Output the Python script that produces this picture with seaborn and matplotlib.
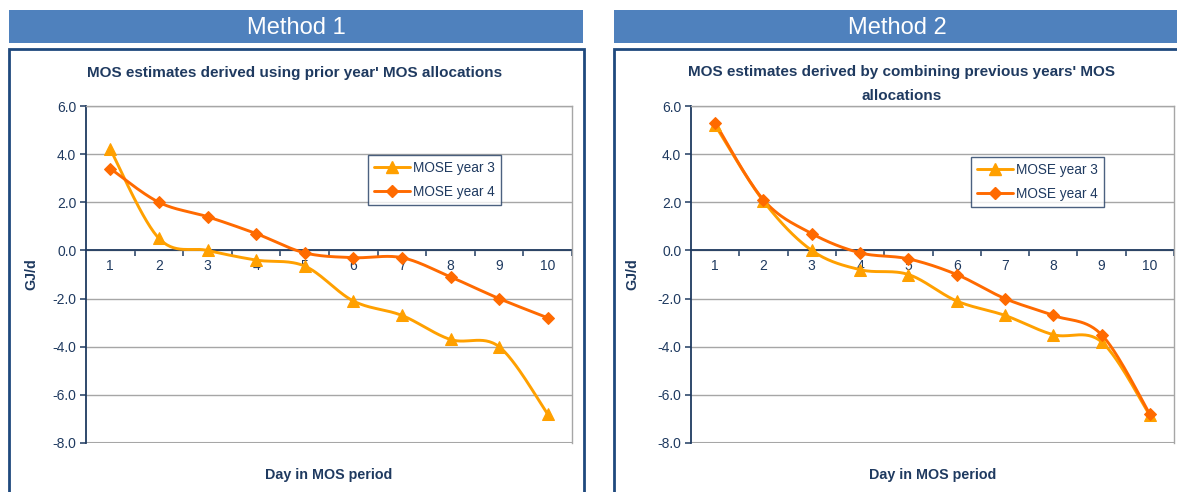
import numpy as np
import pandas as pd
import matplotlib
matplotlib.use("Agg")
import matplotlib.pyplot as plt
from matplotlib.patches import Rectangle
from matplotlib.lines import Line2D
from matplotlib.ticker import FixedLocator, FixedFormatter, NullFormatter
import seaborn as sns

# ---- data ----
days = [1, 2, 3, 4, 5, 6, 7, 8, 9, 10]
day_labels = ["1", "2", "3", "4", "5", "6", "7", "8", "9", "10"]

m1_year3 = [4.2, 0.5, 0.0, -0.4, -0.65, -2.1, -2.7, -3.7, -4.0, -6.8]
m1_year4 = [3.4, 2.0, 1.4, 0.7, -0.1, -0.3, -0.3, -1.1, -2.0, -2.8]

m2_year3 = [5.2, 2.05, 0.0, -0.8, -1.0, -2.1, -2.7, -3.5, -3.8, -6.85]
m2_year4 = [5.3, 2.1, 0.7, -0.1, -0.35, -1.0, -2.0, -2.7, -3.5, -6.8]

series_names = ["MOSE year 3", "MOSE year 4"]
panel_headers = ["Method 1", "Method 2"]
panel_titles = ["MOS estimates derived using prior year' MOS allocations",
                "MOS estimates derived by combining previous years' MOS\nallocations"]
x_title = "Day in MOS period"
y_title = "GJ/d"
y_ticks = [-8, -6, -4, -2, 0, 2, 4, 6]

# ---- style ----
W, H = 1177, 492
NAVY = "#1F3A60"
HEADER = "#4F81BD"
BOXEDGE = "#1F497D"
GRID = "#A6A6A6"
C3 = "#FFA000"
C4 = "#FF6A00"

sns.set_theme(style="white")
plt.rcParams["font.family"] = ["Liberation Sans", "DejaVu Sans"]


def smooth(x, y, n=30):
    """Bezier smoothing through every point (Catmull-Rom style control points)."""
    x = np.asarray(x, float)
    y = np.asarray(y, float)
    pts = np.column_stack([x, y])
    out = []
    m = len(pts)
    for i in range(m - 1):
        p0 = pts[i]
        p3 = pts[i + 1]
        prev = pts[i - 1] if i > 0 else pts[i]
        nxt = pts[i + 2] if i + 2 < m else pts[i + 1]
        p1 = p0 + (p3 - prev) / 6.0
        p2 = p3 - (nxt - p0) / 6.0
        t = np.linspace(0, 1, n, endpoint=(i == m - 2))[:, None]
        seg = ((1 - t) ** 3) * p0 + 3 * ((1 - t) ** 2) * t * p1 + 3 * (1 - t) * t ** 2 * p2 + t ** 3 * p3
        out.append(seg)
    out = np.vstack(out)
    return out[:, 0], out[:, 1]


fig = plt.figure(figsize=(W / 100, H / 100), dpi=100)


def fx(px):
    return px / W


def fy(py):
    return 1 - py / H


def add_rect(x0, y0, x1, y1, **kw):
    fig.patches.append(Rectangle((fx(x0), fy(y1)), fx(x1) - fx(x0), fy(y0) - fy(y1),
                                 transform=fig.transFigure, figure=fig, **kw))


panels = [
    dict(hdr=(9, 10, 583, 43), box=(9, 49, 584, 520), ax=(86, 106, 572, 443),
         head_x=296, title_xy=(295, 73), legend_anchor=(0.58, 0.855), ylab_x=-0.099,
         data=(m1_year3, m1_year4)),
    dict(hdr=(614, 10, 1180, 43), box=(614, 49, 1190, 520), ax=(691, 106, 1174, 443),
         head_x=897, title_xy=(902, 84), legend_anchor=(0.58, 0.85), ylab_x=-0.106,
         data=(m2_year3, m2_year4)),
]

for k, p in enumerate(panels):
    # header bar
    hx0, hy0, hx1, hy1 = p["hdr"]
    add_rect(hx0, hy0, hx1, hy1, facecolor=HEADER, edgecolor="none", zorder=0)
    fig.text(fx(p["head_x"]), fy((hy0 + hy1) / 2 + 1),
             panel_headers[k], color="white", fontsize=17, ha="center", va="center")
    # chart frame
    bx0, by0, bx1, by1 = p["box"]
    add_rect(bx0, by0, bx1, by1, facecolor="none", edgecolor=BOXEDGE, linewidth=2, zorder=0)
    # chart title
    tx, ty = p["title_xy"]
    fig.text(fx(tx), fy(ty), panel_titles[k], color=NAVY, fontsize=11, fontweight="bold",
             ha="center", va="center", linespacing=1.85)

    ax0, ay0, ax1, ay1 = p["ax"]
    ax = fig.add_axes([fx(ax0), fy(ay1), fx(ax1) - fx(ax0), fy(ay0) - fy(ay1)])
    ax.set_facecolor("white")

    y3, y4 = p["data"]
    for vals, col, mk, ms, name in [(y3, C3, "^", 8, series_names[0]),
                                    (y4, C4, "D", 6, series_names[1])]:
        sx, sy = smooth(days, vals)
        curve = pd.DataFrame({"day": sx, "value": sy})
        sns.lineplot(data=curve, x="day", y="value", ax=ax, color=col, linewidth=2.1,
                     sort=False, estimator=None, zorder=3)
        pts = pd.DataFrame({"day": days, "value": vals})
        sns.lineplot(data=pts, x="day", y="value", ax=ax, color=col, linestyle="",
                     marker=mk, markersize=ms, markeredgecolor=col, estimator=None, zorder=4)

    ax.set_xlim(0.5, 10.5)
    ax.set_ylim(-8, 6)

    # horizontal gridlines
    ax.set_yticks(y_ticks)
    ax.set_yticklabels([f"{v:.1f}" for v in y_ticks])
    ax.yaxis.grid(True, color=GRID, linewidth=1.0)
    ax.xaxis.grid(False)
    ax.set_axisbelow(True)

    # category axis crossing at zero
    ax.spines["bottom"].set_position(("data", 0))
    ax.spines["bottom"].set_color(NAVY)
    ax.spines["bottom"].set_linewidth(1.3)
    ax.spines["bottom"].set_zorder(2)
    ax.spines["left"].set_color(NAVY)
    ax.spines["left"].set_linewidth(1.3)
    for s in ("top", "right"):
        ax.spines[s].set_color(GRID)
        ax.spines[s].set_linewidth(1.0)

    ax.xaxis.set_major_locator(FixedLocator([d + 0.5 for d in days]))
    ax.xaxis.set_major_formatter(NullFormatter())
    ax.xaxis.set_minor_locator(FixedLocator(days))
    ax.xaxis.set_minor_formatter(FixedFormatter(day_labels))
    ax.tick_params(axis="x", which="major", direction="out", length=4, width=1.1,
                   color=NAVY, bottom=True)
    ax.tick_params(axis="x", which="minor", length=0, pad=6, labelsize=10,
                   labelcolor=NAVY, bottom=True)
    ax.tick_params(axis="y", direction="out", length=4, width=1.1, color=NAVY,
                   left=True, pad=3, labelsize=10, labelcolor=NAVY)

    # bottom border of plot area
    ax.axhline(-8, color=GRID, linewidth=1.5, zorder=1)

    ax.set_xlabel(x_title, color=NAVY, fontsize=10.3, fontweight="bold")
    ax.xaxis.set_label_coords(0.5, -0.074)
    ax.set_ylabel(y_title, color=NAVY, fontsize=10.3, fontweight="bold")
    ax.yaxis.set_label_coords(p["ylab_x"], 0.5)

    handles = [Line2D([0], [0], color=C3, lw=2.1, marker="^", markersize=8, markeredgecolor=C3),
               Line2D([0], [0], color=C4, lw=2.1, marker="D", markersize=6, markeredgecolor=C4)]
    leg = ax.legend(handles, series_names, loc="upper left", bbox_to_anchor=p["legend_anchor"],
                    fontsize=9.8, frameon=True, fancybox=False, handlelength=2.65,
                    borderpad=0.45, labelspacing=0.75, handletextpad=0.2, borderaxespad=0)
    leg.get_frame().set_edgecolor(NAVY)
    leg.get_frame().set_linewidth(1.0)
    for t in leg.get_texts():
        t.set_color(NAVY)

fig.savefig("out.png", dpi=100)
